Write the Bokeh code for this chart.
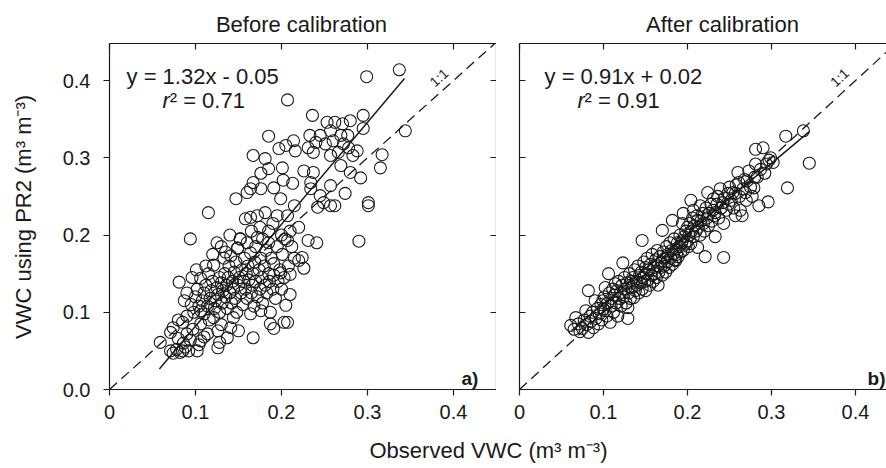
import math
from bokeh.plotting import figure
from bokeh.layouts import column, row
from bokeh.models import FixedTicker, Label, LinearAxis, Range1d
from bokeh.embed import file_html
from bokeh.resources import INLINE

# ---------------- data ----------------
before_x = [
    0.337, 0.299, 0.207, 0.344, 0.236, 0.253, 0.262, 0.271, 0.280, 0.295, 0.295, 0.233, 0.245, 0.257,
    0.269, 0.277, 0.240, 0.251, 0.260, 0.272, 0.214, 0.205, 0.216, 0.231, 0.237, 0.266, 0.278, 0.288,
    0.257, 0.283, 0.317, 0.315, 0.201, 0.226, 0.237, 0.269, 0.280, 0.292, 0.213, 0.234, 0.257, 0.202,
    0.274, 0.301, 0.245, 0.234, 0.199, 0.249,
    0.185, 0.167, 0.181, 0.185, 0.176, 0.167, 0.164, 0.147, 0.160, 0.176, 0.191, 0.197,
    0.059, 0.071, 0.074, 0.078, 0.082, 0.085, 0.088, 0.092, 0.071, 0.074, 0.080, 0.085, 0.086, 0.090,
    0.094, 0.097, 0.102, 0.104, 0.106, 0.106, 0.106, 0.110, 0.114, 0.116, 0.121, 0.126, 0.126, 0.128,
    0.130, 0.137, 0.141, 0.144, 0.150, 0.164, 0.167, 0.176, 0.187, 0.191, 0.203, 0.207, 0.205, 0.210,
    0.081, 0.080, 0.090, 0.095, 0.098, 0.100, 0.102, 0.104, 0.106, 0.108, 0.110, 0.110, 0.112, 0.114,
    0.115, 0.117, 0.118, 0.120, 0.121, 0.122, 0.123, 0.125, 0.126, 0.128, 0.128, 0.130, 0.131, 0.132,
    0.133, 0.134, 0.135, 0.136, 0.137, 0.138, 0.139, 0.140, 0.141, 0.142, 0.143, 0.144, 0.145, 0.146,
    0.147, 0.148, 0.149, 0.150, 0.151, 0.152, 0.153, 0.154, 0.155, 0.156, 0.157, 0.158, 0.159, 0.160,
    0.161, 0.162, 0.164, 0.165, 0.166, 0.167, 0.168, 0.169, 0.170, 0.172, 0.172, 0.174, 0.175, 0.176,
    0.177, 0.178, 0.180, 0.181, 0.182, 0.183, 0.185, 0.186, 0.187, 0.188, 0.190, 0.191, 0.191, 0.193,
    0.195, 0.196, 0.198, 0.199, 0.200, 0.201, 0.203, 0.204, 0.207, 0.208, 0.210, 0.212, 0.215, 0.220,
    0.224, 0.226, 0.231, 0.241, 0.290, 0.207, 0.220, 0.094, 0.152, 0.149, 0.115, 0.158, 0.164, 0.172,
    0.181, 0.190, 0.185, 0.195, 0.175, 0.165, 0.160, 0.170, 0.178, 0.185, 0.200, 0.210, 0.215, 0.242,
    0.257, 0.262, 0.301, 0.101, 0.096, 0.090, 0.087, 0.112, 0.120, 0.130, 0.125, 0.140, 0.135,
]
before_y = [
    0.414, 0.405, 0.375, 0.335, 0.355, 0.346, 0.346, 0.344, 0.348, 0.355, 0.338, 0.329, 0.329, 0.335,
    0.329, 0.329, 0.320, 0.318, 0.322, 0.318, 0.322, 0.316, 0.309, 0.313, 0.307, 0.307, 0.313, 0.309,
    0.303, 0.303, 0.304, 0.287, 0.287, 0.283, 0.281, 0.290, 0.281, 0.274, 0.267, 0.268, 0.264, 0.271,
    0.254, 0.242, 0.251, 0.260, 0.247, 0.242,
    0.328, 0.303, 0.299, 0.286, 0.280, 0.268, 0.260, 0.247, 0.255, 0.260, 0.261, 0.312,
    0.061, 0.050, 0.047, 0.052, 0.048, 0.050, 0.055, 0.050, 0.074, 0.080, 0.066, 0.087, 0.060, 0.072,
    0.064, 0.078, 0.050, 0.058, 0.063, 0.085, 0.102, 0.068, 0.072, 0.090, 0.093, 0.054, 0.076, 0.061,
    0.084, 0.067, 0.080, 0.093, 0.076, 0.098, 0.067, 0.102, 0.085, 0.079, 0.087, 0.087, 0.109, 0.123,
    0.139, 0.090, 0.095, 0.110, 0.100, 0.120, 0.130, 0.108, 0.144, 0.115, 0.125, 0.098, 0.135, 0.108,
    0.150, 0.118, 0.128, 0.140, 0.161, 0.105, 0.115, 0.132, 0.123, 0.145, 0.100, 0.138, 0.112, 0.128,
    0.170, 0.150, 0.120, 0.135, 0.105, 0.145, 0.160, 0.125, 0.173, 0.112, 0.140, 0.130, 0.152, 0.118,
    0.165, 0.100, 0.183, 0.135, 0.145, 0.195, 0.125, 0.155, 0.110, 0.140, 0.170, 0.130, 0.150, 0.118,
    0.160, 0.142, 0.177, 0.125, 0.135, 0.150, 0.108, 0.165, 0.140, 0.197, 0.120, 0.155, 0.130, 0.170,
    0.145, 0.112, 0.160, 0.135, 0.180, 0.125, 0.150, 0.140, 0.100, 0.170, 0.130, 0.163, 0.148, 0.118,
    0.185, 0.140, 0.155, 0.151, 0.130, 0.175, 0.145, 0.195, 0.193, 0.160, 0.149, 0.185, 0.170, 0.167,
    0.171, 0.157, 0.193, 0.190, 0.192, 0.225, 0.210, 0.195, 0.195, 0.183, 0.229, 0.221, 0.223, 0.225,
    0.229, 0.215, 0.205, 0.225, 0.210, 0.205, 0.190, 0.185, 0.195, 0.190, 0.200, 0.205, 0.238, 0.236,
    0.238, 0.238, 0.238, 0.155, 0.145, 0.125, 0.115, 0.160, 0.175, 0.185, 0.190, 0.200, 0.178,
]

after_x = [
    0.061, 0.065, 0.067, 0.070, 0.072, 0.075, 0.077, 0.079, 0.080, 0.082, 0.082, 0.084, 0.085, 0.087,
    0.088, 0.090, 0.091, 0.093, 0.094, 0.095, 0.097, 0.098, 0.099, 0.100, 0.101, 0.102, 0.102, 0.104,
    0.105, 0.106, 0.107, 0.108, 0.109, 0.110, 0.111, 0.112, 0.113, 0.114, 0.115, 0.116, 0.117, 0.118,
    0.119, 0.120, 0.121, 0.122, 0.123, 0.124, 0.125, 0.126, 0.127, 0.128, 0.129, 0.129, 0.130, 0.131,
    0.132, 0.133, 0.134, 0.135, 0.136, 0.137, 0.138, 0.139, 0.140, 0.141, 0.142, 0.143, 0.144, 0.145,
    0.146, 0.146, 0.147, 0.148, 0.149, 0.150, 0.150, 0.151, 0.152, 0.153, 0.154, 0.155, 0.156, 0.157,
    0.158, 0.159, 0.160, 0.161, 0.162, 0.163, 0.164, 0.165, 0.165, 0.166, 0.167, 0.168, 0.169, 0.170,
    0.170, 0.171, 0.172, 0.173, 0.174, 0.175, 0.176, 0.177, 0.178, 0.179, 0.180, 0.181, 0.182, 0.182,
    0.183, 0.184, 0.185, 0.186, 0.186, 0.187, 0.188, 0.189, 0.190, 0.191, 0.192, 0.193, 0.194, 0.194,
    0.195, 0.195, 0.196, 0.197, 0.198, 0.199, 0.200, 0.201, 0.202, 0.203, 0.204, 0.204, 0.205, 0.206,
    0.207, 0.207, 0.208, 0.210, 0.211, 0.212, 0.212, 0.213, 0.215, 0.215, 0.216, 0.218, 0.219, 0.220,
    0.221, 0.222, 0.223, 0.224, 0.225, 0.226, 0.228, 0.229, 0.230, 0.231, 0.232, 0.233, 0.233, 0.235,
    0.236, 0.237, 0.239, 0.240, 0.242, 0.243, 0.243, 0.244, 0.246, 0.248, 0.249, 0.250, 0.252, 0.254,
    0.255, 0.257, 0.257, 0.258, 0.260, 0.261, 0.262, 0.263, 0.265, 0.266, 0.268, 0.269, 0.270, 0.271,
    0.273, 0.275, 0.277, 0.279, 0.280, 0.281, 0.281, 0.283, 0.285, 0.287, 0.290, 0.292, 0.294, 0.296,
    0.297, 0.299, 0.302, 0.317, 0.319, 0.338, 0.345,
]
after_y = [
    0.083, 0.078, 0.093, 0.085, 0.075, 0.079, 0.090, 0.102, 0.084, 0.074, 0.128, 0.095, 0.088, 0.100,
    0.080, 0.115, 0.092, 0.105, 0.085, 0.098, 0.110, 0.090, 0.115, 0.104, 0.120, 0.102, 0.132, 0.095,
    0.112, 0.150, 0.125, 0.087, 0.108, 0.118, 0.130, 0.100, 0.122, 0.137, 0.112, 0.128, 0.095, 0.140,
    0.118, 0.125, 0.108, 0.135, 0.164, 0.120, 0.145, 0.130, 0.112, 0.138, 0.092, 0.106, 0.125, 0.150,
    0.118, 0.140, 0.132, 0.145, 0.119, 0.155, 0.128, 0.140, 0.135, 0.160, 0.125, 0.148, 0.138, 0.152,
    0.193, 0.130, 0.145, 0.165, 0.140, 0.158, 0.128, 0.150, 0.170, 0.142, 0.155, 0.135, 0.162, 0.148,
    0.175, 0.140, 0.158, 0.150, 0.168, 0.145, 0.180, 0.135, 0.160, 0.152, 0.172, 0.158, 0.165, 0.206,
    0.148, 0.178, 0.160, 0.170, 0.152, 0.185, 0.165, 0.175, 0.158, 0.190, 0.170, 0.180, 0.219, 0.162,
    0.175, 0.195, 0.168, 0.167, 0.182, 0.175, 0.190, 0.172, 0.185, 0.200, 0.178, 0.190, 0.193, 0.215,
    0.180, 0.228, 0.198, 0.188, 0.205, 0.192, 0.210, 0.185, 0.200, 0.215, 0.189, 0.245, 0.205, 0.222,
    0.232, 0.198, 0.212, 0.205, 0.225, 0.219, 0.184, 0.210, 0.238, 0.200, 0.218, 0.228, 0.215, 0.205,
    0.172, 0.235, 0.222, 0.255, 0.212, 0.228, 0.240, 0.218, 0.232, 0.247, 0.225, 0.198, 0.229, 0.240,
    0.250, 0.222, 0.260, 0.235, 0.242, 0.171, 0.215, 0.248, 0.232, 0.254, 0.240, 0.262, 0.245, 0.255,
    0.235, 0.225, 0.254, 0.265, 0.281, 0.268, 0.250, 0.232, 0.225, 0.260, 0.272, 0.255, 0.245, 0.270,
    0.283, 0.262, 0.250, 0.261, 0.275, 0.292, 0.311, 0.275, 0.238, 0.285, 0.313, 0.280, 0.292, 0.243,
    0.297, 0.300, 0.294, 0.328, 0.261, 0.335, 0.293,
]

x_ticks = [0.0, 0.1, 0.2, 0.3, 0.4]
x_tick_labels = ["0", "0.1", "0.2", "0.3", "0.4"]
y_ticks = [0.0, 0.1, 0.2, 0.3, 0.4]
y_tick_labels = ["0.0", "0.1", "0.2", "0.3", "0.4"]

fit_before = (1.32, -0.05)
fit_before_x = [0.058, 0.343]
fit_after = (0.91, 0.02)
fit_after_x = [0.062, 0.345]
one_to_one = [0.0, 0.45]

titles = ["Before calibration", "After calibration"]
eq_texts = ["y = 1.32x - 0.05", "y = 0.91x + 0.02"]
r2_texts = ["\u00b2 = 0.71", "\u00b2 = 0.91"]
panel_tags = ["a)", "b)"]
x_label = "Observed VWC (m\u00b3 m\u207b\u00b3)"
y_label = "VWC using PR2 (m\u00b3 m\u207b\u00b3)"

# ---------------- styling ----------------
FONT = "Liberation Sans"
INK = "#1a1a1a"
TICK_FS = "20px"
TEXT_FS = "22px"

YR = (0.0, 0.448)
TOP_H = 42
MID_H = 387
BOT_H = 39


def make_axis(kind, ticks, labels, show_labels):
    ax = LinearAxis(ticker=FixedTicker(ticks=ticks),
                    major_label_overrides={t: l for t, l in zip(ticks, labels)})
    ax.axis_line_color = INK
    ax.axis_line_width = 1.2
    ax.major_tick_line_color = INK
    ax.major_tick_line_width = 1.2
    ax.minor_tick_line_color = None
    ax.major_label_text_font = FONT
    ax.major_label_text_color = INK
    ax.major_label_text_font_size = TICK_FS
    if show_labels:
        ax.major_tick_out = 6
        ax.major_tick_in = 0
        ax.major_label_standoff = 13 if kind == "y" else 9
    else:
        ax.major_tick_out = 0
        ax.major_tick_in = 6
        ax.major_label_text_font_size = "0px"
        ax.major_label_text_color = None
        ax.major_label_standoff = 0
    return ax


def blank_fig(width, height):
    p = figure(width=width, height=height, x_range=Range1d(0, width),
               y_range=Range1d(0, height), x_axis_location=None, y_axis_location=None,
               toolbar_location=None, output_backend="svg", min_border=0)
    p.outline_line_color = None
    for g in p.grid:
        g.visible = False
    return p


def base_fig(width, xr, mb_left):
    p = figure(width=width, height=MID_H, x_range=Range1d(*xr), y_range=Range1d(*YR),
               x_axis_location=None, y_axis_location=None, toolbar_location=None,
               output_backend="svg", min_border_left=mb_left, min_border_right=0,
               min_border_top=1, min_border_bottom=40)
    p.outline_line_color = None
    for g in p.grid:
        g.visible = False
    return p


def lbl(p, x, y, text, size=TEXT_FS, align="left", baseline="alphabetic", angle=0.0,
        style="normal"):
    p.add_layout(Label(x=x, y=y, text=text, text_font=FONT, text_font_size=size,
                       text_color=INK, text_align=align, text_baseline=baseline,
                       angle=angle, text_font_style=style))


# ---------------- top strip: panel titles ----------------
ptop = blank_fig(886, TOP_H)
lbl(ptop, 301, TOP_H - 24, titles[0], size=TEXT_FS, align="center")
lbl(ptop, 722, TOP_H - 24, titles[1], size=TEXT_FS, align="center")

# ---------------- y label strip ----------------
pyl = blank_fig(40, MID_H)
lbl(pyl, 23, MID_H - (236 - TOP_H), y_label, size=TEXT_FS, align="center",
    baseline="middle", angle=math.pi / 2)

# ---------------- left panel ----------------
p1 = base_fig(456, (0.0, 0.45), 69)
p1.add_layout(make_axis("y", y_ticks, y_tick_labels, True), "left")
p1.add_layout(make_axis("x", x_ticks, x_tick_labels, True), "below")
p1.add_layout(make_axis("x", x_ticks, x_tick_labels, False), "above")
p1.add_layout(make_axis("y", y_ticks, y_tick_labels, False), "right")

p1.line(one_to_one, one_to_one, line_color=INK, line_width=1.3, line_dash="10 6")
p1.line(fit_before_x, [fit_before[0] * v + fit_before[1] for v in fit_before_x],
        line_color=INK, line_width=1.5)
p1.scatter(before_x, before_y, marker="circle", size=12, fill_color=None,
           line_color=INK, line_width=1.1)

lbl(p1, 0.0198, 0.405, eq_texts[0])
lbl(p1, 0.0616, 0.374, "r", style="italic")
lbl(p1, 0.0700, 0.374, r2_texts[0])
lbl(p1, 0.429, 0.0145, panel_tags[0], size="19px", align="right", style="bold")
lbl(p1, 0.383, 0.404, "1:1", size="14px", align="center", baseline="middle",
    angle=math.radians(42))

# ---------------- right panel ----------------
p2 = base_fig(390, (0.0, 0.4369), 23)
p2.add_layout(make_axis("y", y_ticks, y_tick_labels, False), "left")
p2.add_layout(make_axis("x", x_ticks, x_tick_labels, True), "below")
p2.add_layout(make_axis("x", x_ticks, x_tick_labels, False), "above")

p2.line(one_to_one, one_to_one, line_color=INK, line_width=1.3, line_dash="10 6")
p2.line(fit_after_x, [fit_after[0] * v + fit_after[1] for v in fit_after_x],
        line_color=INK, line_width=1.5)
p2.scatter(after_x, after_y, marker="circle", size=12, fill_color=None,
           line_color=INK, line_width=1.1)

lbl(p2, 0.0298, 0.405, eq_texts[1])
lbl(p2, 0.069, 0.374, "r", style="italic")
lbl(p2, 0.0774, 0.374, r2_texts[1])
lbl(p2, 0.4357, 0.0145, panel_tags[1], size="19px", align="right", style="bold")
lbl(p2, 0.381, 0.404, "1:1", size="14px", align="center", baseline="middle",
    angle=math.radians(42.6))

# ---------------- bottom strip: shared x label ----------------
pbot = blank_fig(886, BOT_H)
lbl(pbot, 488, BOT_H - 21, x_label, size=TEXT_FS, align="center", baseline="middle")

layout = column(ptop, row(pyl, p1, p2, spacing=0), pbot, spacing=0)
open("out.html", "w").write(file_html(layout, INLINE))
